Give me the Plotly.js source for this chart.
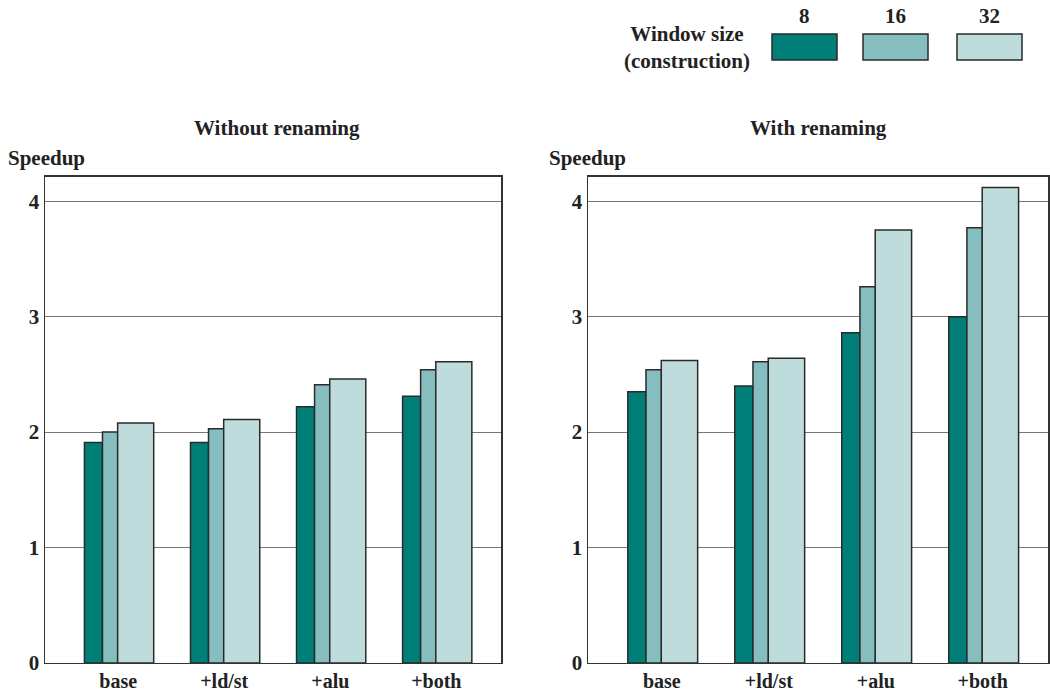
<!DOCTYPE html>
<html>
<head>
<meta charset="utf-8">
<script src="https://cdn.plot.ly/plotly-3.0.1.min.js"></script>
<style>html,body{margin:0;padding:0;background:#fff;}#chart{width:1050px;height:693px;}</style>
</head>
<body>
<div id="chart"></div>
<script>
const categories = ["base", "+ld/st", "+alu", "+both"];
const seriesNames = ["8", "16", "32"];
const withoutRenaming = {
  "8":  [1.91, 1.91, 2.22, 2.31],
  "16": [2.00, 2.03, 2.41, 2.54],
  "32": [2.08, 2.11, 2.46, 2.61]
};
const withRenaming = {
  "8":  [2.35, 2.40, 2.86, 3.00],
  "16": [2.54, 2.61, 3.26, 3.77],
  "32": [2.62, 2.64, 3.75, 4.12]
};
const yTicks = [0, 1, 2, 3, 4];
const panelTitles = ["Without renaming", "With renaming"];
const legendTitle = "Window size<br>(construction)";
const yTitle = "Speedup";

const colors = {"8": "#007f79", "16": "#86bdbf", "32": "#bfdcdc"};
const widths = {"8": 0.17, "16": 0.145, "32": 0.34};
const offsets = {"8": -0.318, "16": -0.148, "32": -0.005};
const font = "Liberation Serif, DejaVu Serif, Tinos, Times, serif";
const xIdx = categories.map((c, i) => i);

const traces = [];
[withoutRenaming, withRenaming].forEach((data, p) => {
  seriesNames.forEach(s => {
    traces.push({
      type: "bar",
      x: xIdx,
      y: data[s],
      name: s,
      xaxis: p === 0 ? "x" : "x2",
      yaxis: p === 0 ? "y" : "y2",
      width: widths[s],
      offset: offsets[s],
      marker: {color: colors[s], line: {color: "#2a2a2a", width: 1.5}},
      showlegend: false,
      hoverinfo: "skip"
    });
  });
});

const xBase = {
  range: [-0.69, 3.61], tickvals: xIdx, ticktext: categories,
  showgrid: false, zeroline: false, showline: true, mirror: true,
  linecolor: "#333", linewidth: 1.5, ticks: "", ticklabelstandoff: 0,
  tickfont: {family: font, size: 20, color: "#222", weight: "bold"}
};
const yBase = {
  range: [0, 4.21], tickvals: yTicks, showgrid: true, gridcolor: "#777", gridwidth: 1,
  zeroline: false, showline: true, mirror: true, linecolor: "#333", linewidth: 1.5,
  ticks: "", ticklen: 0,
  tickfont: {family: font, size: 21, color: "#222", weight: "bold"},
  domain: [0.0433, 0.7446]
};

const annotations = [
  {text: panelTitles[0], x: 277, y: 128},
  {text: panelTitles[1], x: 818, y: 128},
].map(a => ({text: "<b>" + a.text + "</b>", xref: "paper", yref: "paper",
  x: a.x / 1050, y: 1 - a.y / 693, showarrow: false, xanchor: "center", yanchor: "middle",
  font: {family: font, size: 21, color: "#222"}}));

[6, 547].forEach(x => annotations.push({
  text: "<b>" + yTitle + "</b>", xref: "paper", yref: "paper",
  x: x / 1050, y: 1 - 158 / 693, showarrow: false, xanchor: "left", yanchor: "middle",
  font: {family: font, size: 21, color: "#222"}
}));

annotations.push({
  text: "<b>" + legendTitle + "</b>", xref: "paper", yref: "paper",
  x: 752 / 1050, y: 1 - 48 / 693, showarrow: false, xanchor: "right", yanchor: "middle",
  align: "center", font: {family: font, size: 21, color: "#222"}
});

const shapes = [];
const swatchX = [772, 863, 957];
seriesNames.forEach((s, i) => {
  const x0 = swatchX[i], x1 = x0 + 65;
  shapes.push({type: "rect", xref: "paper", yref: "paper",
    x0: x0 / 1050, x1: x1 / 1050, y0: 1 - 60 / 693, y1: 1 - 34 / 693,
    fillcolor: colors[s], line: {color: "#2a2a2a", width: 1.5}});
  annotations.push({text: "<b>" + s + "</b>", xref: "paper", yref: "paper",
    x: (x0 + x1) / 2 / 1050, y: 1 - 16 / 693, showarrow: false, xanchor: "center", yanchor: "middle",
    font: {family: font, size: 21, color: "#222"}});
});

const layout = {
  width: 1050, height: 693,
  margin: {l: 0, r: 0, t: 0, b: 0},
  paper_bgcolor: "#fff", plot_bgcolor: "#fff",
  barmode: "overlay",
  showlegend: false,
  font: {family: font},
  xaxis: Object.assign({}, xBase, {domain: [45 / 1050, 501 / 1050], anchor: "y"}),
  yaxis: Object.assign({}, yBase, {anchor: "x"}),
  xaxis2: Object.assign({}, xBase, {domain: [588 / 1050, 1048 / 1050], anchor: "y2"}),
  yaxis2: Object.assign({}, yBase, {anchor: "x2"}),
  annotations: annotations,
  shapes: shapes
};

Plotly.newPlot("chart", traces, layout, {displayModeBar: false, staticPlot: true});
</script>
</body>
</html>
